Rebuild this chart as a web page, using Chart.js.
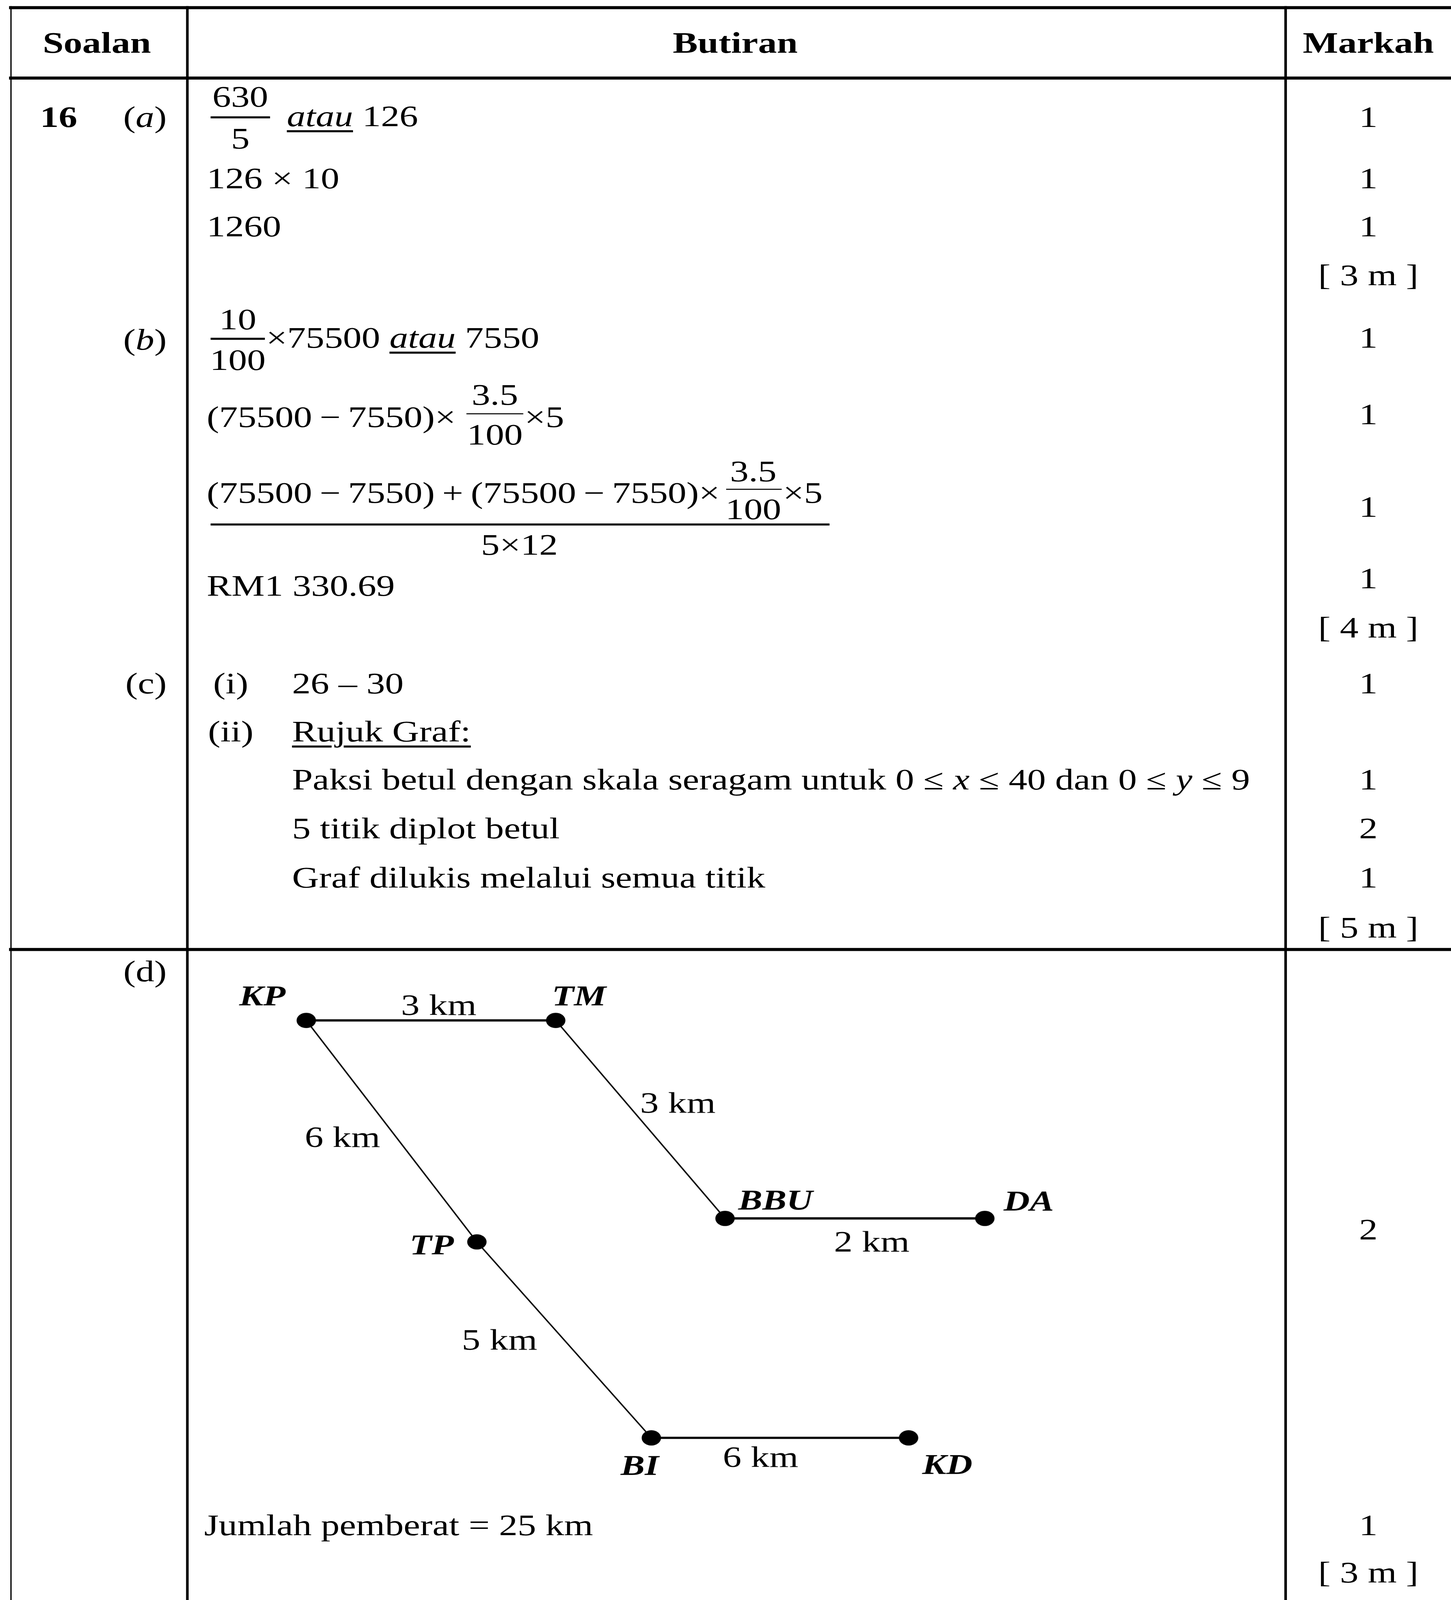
<!DOCTYPE html>
<html>
<head>
<meta charset="utf-8">
<script src="https://cdn.jsdelivr.net/npm/chart.js@4.4.1/dist/chart.umd.min.js"></script>
<style>
html, body { margin: 0; padding: 0; background: #fff; }
::-webkit-scrollbar { display: none; }
#frame { position: relative; width: 3715px; height: 5187px; overflow: hidden; background: #fff; }
#page { position: absolute; left: 0; top: 0; width: 1123px; height: 1568px; transform-origin: 0 0;
        font-family: "Liberation Serif", "Times New Roman", serif; font-size: 28.8px; color: #000; }
.t { position: absolute; line-height: 1; white-space: nowrap; transform: translateY(-50%); }
.c { transform: translate(-50%, -50%); }
.r { transform: translate(-100%, -50%); }
.b { font-weight: bold; }
.h { font-size: 29px; font-weight: bold; }
.ln { position: absolute; background: #000; }
u { text-underline-offset: 4px; text-decoration-thickness: 1.6px; }
#net { position: absolute; left: 145px; top: 932px; width: 850px; height: 540px; }
</style>
</head>
<body>
<div id="frame">
<div id="page">
  <!-- garisan jadual -->
  <div class="ln" style="left:7px;top:6px;width:1116px;height:3.2px"></div>
  <div class="ln" style="left:7px;top:75px;width:1116px;height:3.2px"></div>
  <div class="ln" style="left:7px;top:929px;width:1116px;height:3.2px"></div>
  <div class="ln" style="left:7.5px;top:6px;width:1.5px;height:1562px"></div>
  <div class="ln" style="left:144px;top:6px;width:1.5px;height:1562px"></div>
  <div class="ln" style="left:994px;top:6px;width:1.5px;height:1562px"></div>

  <!-- tajuk -->
  <div class="t c h" style="left:75px;top:42px">Soalan</div>
  <div class="t c h" style="left:569px;top:42px">Butiran</div>
  <div class="t c h" style="left:1059px;top:42px">Markah</div>

  <!-- lajur soalan -->
  <div class="t b" style="left:31px;top:115px">16</div>
  <div class="t r" style="left:129px;top:115px">(<i>a</i>)</div>
  <div class="t r" style="left:129px;top:333px">(<i>b</i>)</div>
  <div class="t r" style="left:129px;top:670px">(c)</div>
  <div class="t r" style="left:129px;top:952px">(d)</div>

  <!-- (a) -->
  <div class="t c" style="left:186px;top:95px">630</div>
  <div class="ln" style="left:163px;top:114px;width:46px;height:1.6px"></div>
  <div class="t c" style="left:186px;top:136px">5</div>
  <div class="t" style="left:222px;top:114px"><i><u>atau</u></i> 126</div>
  <div class="t" style="left:160px;top:175px">126 × 10</div>
  <div class="t" style="left:160px;top:222px">1260</div>

  <!-- (b) -->
  <div class="t c" style="left:184px;top:313px">10</div>
  <div class="ln" style="left:163px;top:331px;width:42px;height:1.6px"></div>
  <div class="t c" style="left:184px;top:353px">100</div>
  <div class="t" style="left:206px;top:331px">×75500 <i><u>atau</u></i> 7550</div>

  <div class="t" style="left:160px;top:409px">(75500&thinsp;−&thinsp;7550)×</div>
  <div class="t c" style="left:383px;top:387px">3.5</div>
  <div class="ln" style="left:361px;top:405px;width:44px;height:1.4px"></div>
  <div class="t c" style="left:383px;top:426px">100</div>
  <div class="t" style="left:406px;top:409px">×5</div>

  <div class="t" style="left:160px;top:483px">(75500&thinsp;−&thinsp;7550)&thinsp;+&thinsp;(75500&thinsp;−&thinsp;7550)×</div>
  <div class="t c" style="left:583px;top:462px">3.5</div>
  <div class="ln" style="left:562px;top:479px;width:43px;height:1.4px"></div>
  <div class="t c" style="left:583px;top:499px">100</div>
  <div class="t" style="left:606px;top:483px">×5</div>
  <div class="ln" style="left:163px;top:513px;width:479px;height:1.8px"></div>
  <div class="t c" style="left:402px;top:534px">5×12</div>
  <div class="t" style="left:160px;top:574px">RM1 330.69</div>

  <!-- (c) -->
  <div class="t" style="left:165px;top:670px">(i)</div>
  <div class="t" style="left:226px;top:670px">26 – 30</div>
  <div class="t" style="left:161px;top:717px">(ii)</div>
  <div class="t" style="left:226px;top:717px"><u>Rujuk Graf:</u></div>
  <div class="t" style="left:226px;top:764px">Paksi betul dengan skala seragam untuk 0 ≤ <i>x</i> ≤ 40 dan 0 ≤ <i>y</i> ≤ 9</div>
  <div class="t" style="left:226px;top:812px">5 titik diplot betul</div>
  <div class="t" style="left:226px;top:860px">Graf dilukis melalui semua titik</div>

  <!-- (d) -->
  <div id="net"><canvas id="graf"></canvas></div>
  <div class="t" style="left:158px;top:1495px">Jumlah pemberat = 25 km</div>

  <!-- markah -->
  <div class="t c" style="left:1059px;top:115px">1</div>
  <div class="t c" style="left:1059px;top:175px">1</div>
  <div class="t c" style="left:1059px;top:222px">1</div>
  <div class="t c" style="left:1059px;top:270px">[ 3 m ]</div>
  <div class="t c" style="left:1059px;top:331px">1</div>
  <div class="t c" style="left:1059px;top:406px">1</div>
  <div class="t c" style="left:1059px;top:497px">1</div>
  <div class="t c" style="left:1059px;top:567px">1</div>
  <div class="t c" style="left:1059px;top:615px">[ 4 m ]</div>
  <div class="t c" style="left:1059px;top:670px">1</div>
  <div class="t c" style="left:1059px;top:764px">1</div>
  <div class="t c" style="left:1059px;top:812px">2</div>
  <div class="t c" style="left:1059px;top:860px">1</div>
  <div class="t c" style="left:1059px;top:909px">[ 5 m ]</div>
  <div class="t c" style="left:1059px;top:1205px">2</div>
  <div class="t c" style="left:1059px;top:1495px">1</div>
  <div class="t c" style="left:1059px;top:1541px">[ 3 m ]</div>
</div>
</div>

<script>
// Reka letak ditulis pada 1123 x 1568 px, kemudian diskalakan supaya
// seluruh halaman muat dalam tetingkap (3715 x 5187, atau lebih kecil)
const W = window.innerWidth || 3715;
const H = Math.min(window.innerHeight || 5187, 5187);
const SX = W / 1123;
const SY = H / 1568;
const frame = document.getElementById('frame');
frame.style.width = W + 'px';
frame.style.height = H + 'px';
document.getElementById('page').style.transform = 'scale(' + SX + ',' + SY + ')';

// Bucu (tempat) dan kedudukannya dalam rajah
const nodeNames = ['KP', 'TM', 'BBU', 'DA', 'TP', 'BI', 'KD'];
const nodeX = [92, 285, 416, 617, 224, 359, 558];
const nodeY = [68, 68, 262, 262, 285, 477, 477];

// Tepi pokok dan pemberatnya (km)
const edgeFrom = ['KP', 'TM', 'BBU', 'KP', 'TP', 'BI'];
const edgeTo = ['TM', 'BBU', 'DA', 'TP', 'BI', 'KD'];
const edgeKm = [3, 3, 2, 6, 5, 6];

// Gaya: tebal garisan dan anjakan label (px)
const edgeWidth = [2.2, 1.2, 2.2, 1.2, 1.2, 2.2];
const edgeLabelOffset = [[6, -15], [29, -16], [13, 23], [-38, 6], [-50, 0], [-15, 19]];
const nodeLabelOffset = [[-34, -24], [18, -24], [39, -18], [34, -17], [-35, 3], [-9, 27], [30, 26]];

const pt = name => {
    const i = nodeNames.indexOf(name);
    return { x: nodeX[i], y: nodeY[i] };
};

// Satu set data bagi setiap tepi
const datasets = edgeFrom.map((f, i) => ({
    data: [pt(f), pt(edgeTo[i])],
    showLine: true,
    borderColor: '#000',
    borderWidth: edgeWidth[i],
    pointRadius: 0,
    order: 2
}));

// Titik bucu
datasets.push({
    data: nodeNames.map(pt),
    pointRadius: 7.5,
    pointBackgroundColor: '#000',
    pointBorderWidth: 0,
    order: 1
});

// Label bucu dan pemberat tepi
const labelPlugin = {
    id: 'labelGraf',
    afterDatasetsDraw(chart) {
        const ctx = chart.ctx;
        const x = chart.scales.x;
        const y = chart.scales.y;
        ctx.save();
        ctx.fillStyle = '#000';
        ctx.textAlign = 'center';
        ctx.textBaseline = 'alphabetic';

        ctx.font = 'italic bold 28px "Liberation Serif"';
        nodeNames.forEach((n, i) => {
            const px = x.getPixelForValue(nodeX[i]) + nodeLabelOffset[i][0];
            const py = y.getPixelForValue(nodeY[i]) + nodeLabelOffset[i][1];
            ctx.fillText(n, px, py + 0.33 * 28);
        });

        ctx.font = '28.8px "Liberation Serif"';
        edgeFrom.forEach((f, i) => {
            const a = pt(f), b = pt(edgeTo[i]);
            const px = x.getPixelForValue((a.x + b.x) / 2) + edgeLabelOffset[i][0];
            const py = y.getPixelForValue((a.y + b.y) / 2) + edgeLabelOffset[i][1];
            ctx.fillText(edgeKm[i] + ' km', px, py + 0.33 * 28.8);
        });
        ctx.restore();
    }
};

new Chart(document.getElementById('graf'), {
    type: 'scatter',
    data: { datasets: datasets },
    options: {
        responsive: true,
        maintainAspectRatio: false,
        devicePixelRatio: Math.max(SX, SY),
        animation: false,
        layout: { padding: 0, autoPadding: false },
        scales: {
            x: { type: 'linear', min: 0, max: 850, display: false },
            y: { type: 'linear', min: 0, max: 540, reverse: true, display: false }
        },
        plugins: { legend: { display: false }, tooltip: { enabled: false } }
    },
    plugins: [labelPlugin]
});
</script>
</body>
</html>
